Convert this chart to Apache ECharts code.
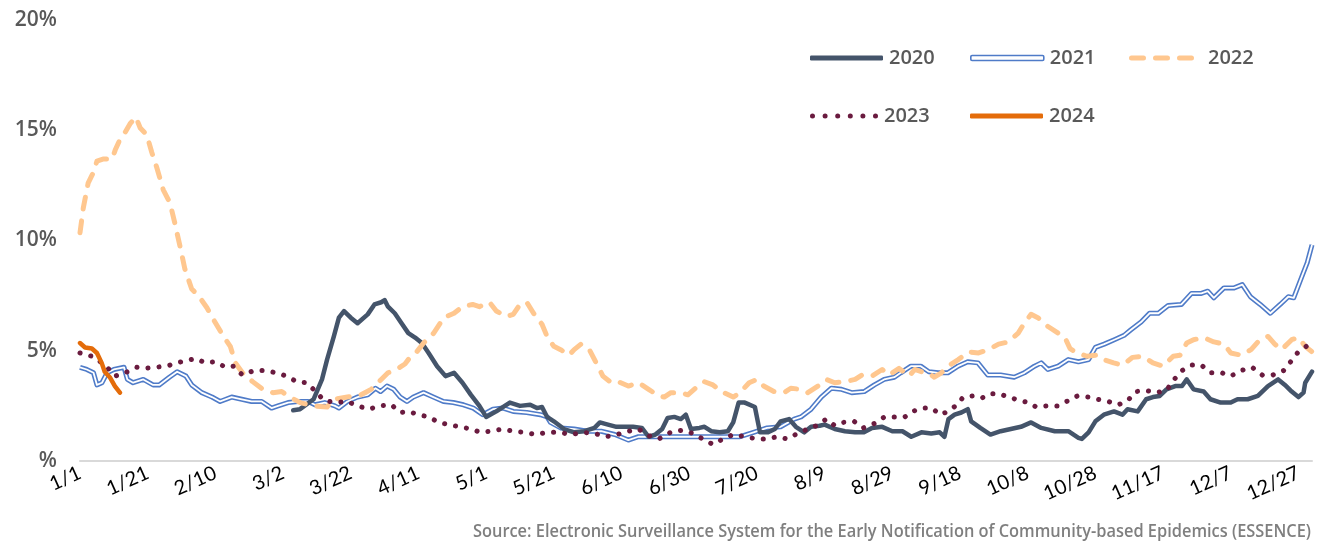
<!DOCTYPE html>
<html>
<head>
<meta charset="utf-8">
<script src="https://cdn.jsdelivr.net/npm/echarts@6/dist/echarts.min.js"></script>
<style>
html,body{margin:0;padding:0;background:#fff;}
#chart{width:1322px;height:546px;}
</style>
</head>
<body>
<div id="chart"></div>
<script>
// x: day of year (0 = 1/1), y: percent
const xTickLabels = ['1/1','1/21','2/10','3/2','3/22','4/11','5/1','5/21','6/10','6/30','7/20','8/9','8/29','9/18','10/8','10/28','11/17','12/7','12/27'];
const yTickLabels = ['%','5%','10%','15%','20%'];
const seriesNames = ['2020','2021','2022','2023','2024'];

const s2020 = [[63,2.3],[65,2.35],[69,2.8],[71.5,3.7],[73,4.6],[75,5.65],[76.5,6.5],[78,6.8],[80,6.5],[82,6.25],[85,6.65],[87,7.1],[89,7.2],[90,7.3],[91,7.0],[93,6.7],[95,6.25],[97,5.8],[99,5.6],[101,5.35],[103,4.9],[105.5,4.3],[108,3.85],[110.5,4.0],[113,3.55],[115.5,3.0],[118,2.5],[120,2.0],[123,2.25],[127,2.65],[130,2.5],[133,2.55],[135,2.4],[136.5,2.45],[138,2.0],[140,1.8],[143,1.45],[146,1.3],[149,1.35],[152,1.5],[153.6,1.75],[156,1.65],[158.5,1.55],[161,1.55],[163.4,1.55],[166,1.5],[168,1.1],[170,1.2],[172,1.45],[173.6,1.95],[175.6,2.0],[177.5,1.9],[179,2.1],[180.5,1.45],[183,1.5],[184.5,1.55],[186.5,1.35],[189,1.3],[191.4,1.35],[193,1.75],[194.6,2.65],[196.4,2.65],[199.4,2.45],[200.9,1.3],[203.3,1.3],[205.3,1.45],[207,1.8],[209.5,1.9],[211.5,1.55],[214,1.3],[216,1.55],[218.5,1.6],[220,1.65],[223,1.45],[226,1.35],[229,1.3],[231.6,1.3],[234,1.5],[237,1.55],[240,1.35],[243,1.35],[245.6,1.1],[248.6,1.3],[251.5,1.25],[254,1.3],[255.4,1.1],[256.6,1.9],[258.4,2.1],[260.4,2.2],[262.3,2.35],[263.3,1.8],[266,1.5],[269,1.2],[272,1.35],[275,1.45],[278,1.55],[281,1.75],[284,1.5],[288,1.35],[292,1.35],[295,1.05],[296,1.0],[298,1.3],[300,1.8],[302.5,2.1],[305.5,2.25],[308,2.1],[309.5,2.35],[312.5,2.25],[315,2.8],[317,2.9],[319,2.95],[321,3.25],[323.6,3.4],[325.6,3.4],[327,3.7],[329,3.25],[332,3.15],[334,2.8],[337,2.65],[340,2.65],[342,2.8],[345,2.8],[348,2.95],[351,3.4],[354,3.7],[356,3.45],[358,3.15],[360,2.9],[361.5,3.1],[362,3.55],[364,4.05]];

const s2021 = [[0,4.25],[2,4.15],[4,4.0],[5,3.45],[6.5,3.55],[8,4.0],[10,4.15],[13,4.25],[14,3.7],[15.7,3.55],[18.7,3.7],[21.6,3.45],[23.4,3.45],[26.4,3.8],[28.7,4.05],[31.3,3.85],[33,3.45],[36,3.1],[39,2.9],[41.4,2.7],[44.8,2.9],[47.8,2.8],[50.7,2.7],[53.7,2.7],[56.6,2.4],[58.5,2.5],[61.5,2.65],[64.4,2.7],[67.4,2.7],[69.4,2.55],[72.3,2.65],[75.3,2.5],[76.5,2.4],[79,2.7],[82,2.9],[85,3.0],[87.3,3.3],[88.8,3.15],[90.7,3.4],[92.7,3.25],[94.6,2.9],[96.6,2.7],[98.5,2.9],[101.5,3.1],[104.4,2.9],[107.4,2.7],[110.3,2.65],[113.3,2.55],[116.2,2.4],[119,2.1],[122,2.35],[125,2.4],[128,2.25],[132,2.2],[136,2.1],[138,2.0],[139,1.75],[142,1.5],[146,1.45],[150,1.35],[154,1.35],[158,1.2],[162,0.95],[165,1.1],[168,1.1],[172,1.1],[176,1.1],[180,1.1],[184,1.1],[188,1.1],[192,1.1],[195,1.1],[199,1.3],[203,1.5],[207,1.55],[211,1.9],[213,2.0],[216,2.35],[219,2.9],[222,3.3],[225,3.25],[228,3.1],[231.7,3.15],[234.7,3.45],[237.6,3.7],[240.6,3.8],[242.5,4.0],[245.5,4.3],[248.4,4.3],[250.8,4.05],[253.5,4.0],[256.4,4.0],[259.4,4.3],[262.3,4.5],[265.3,4.45],[268.2,3.9],[272,3.9],[276,3.8],[279,4.0],[282,4.3],[284,4.45],[286,4.15],[289,4.3],[292,4.6],[295,4.5],[298,4.6],[300,5.15],[302.6,5.3],[305.6,5.5],[308.5,5.7],[310.5,5.95],[313.5,6.3],[316,6.7],[318.6,6.7],[321.5,7.05],[325.4,7.1],[328.4,7.6],[331.3,7.6],[333.2,7.7],[335,7.4],[338,7.85],[341,7.85],[343.4,8.0],[345.8,7.45],[348.7,7.1],[351.7,6.7],[354.6,7.1],[357,7.45],[358.6,7.4],[360.6,8.2],[362.6,9.0],[364,9.8]];

const s2022 = [[0,10.35],[1,11.5],[2.4,12.6],[4,13.1],[5,13.6],[7,13.7],[9.5,13.7],[10.4,14.1],[12,14.65],[13.3,14.9],[14.8,15.3],[16.5,15.6],[17.8,15.1],[19.7,14.8],[21.2,14.0],[22.7,13.3],[24.6,12.3],[26.6,11.7],[28,10.8],[29.6,9.7],[31,8.7],[33,7.8],[35,7.5],[37.5,6.95],[39.5,6.4],[42.4,5.65],[44.4,5.2],[45.9,4.45],[48,4.0],[51,3.6],[54,3.25],[57,3.1],[59.6,3.15],[62,2.9],[65,2.65],[69,2.5],[73,2.45],[75,2.8],[79,2.9],[83,3.0],[86,3.25],[89,3.7],[91,4.0],[94,4.2],[96,4.4],[98,4.8],[99.5,4.95],[101.5,5.35],[104.5,5.8],[107.5,6.5],[110.5,6.7],[113,7.0],[116,7.1],[118,7.0],[121,7.2],[123,6.8],[126,6.55],[128,6.65],[130,7.1],[132,7.2],[134,6.7],[136.5,6.2],[138,5.65],[140,5.2],[142,5.05],[144.5,4.8],[146,5.05],[148,5.3],[150.5,5.05],[152.5,4.45],[154.5,3.85],[157,3.55],[159,3.6],[162,3.4],[165,3.55],[168,3.25],[171,2.95],[172.6,2.9],[174.6,3.1],[177.6,3.1],[179.6,3.0],[182.6,3.4],[184.4,3.6],[187,3.45],[189.5,3.15],[193,2.9],[195,3.1],[197.7,3.55],[200,3.7],[202,3.4],[205,3.15],[208,3.1],[210,3.3],[213,3.25],[215,3.1],[218,3.4],[220.5,3.7],[223,3.55],[226,3.6],[229,3.7],[231,3.9],[234,3.85],[237,4.15],[239,3.9],[242,4.2],[245,3.85],[246.6,4.15],[248.6,4.05],[250.6,4.0],[252.4,3.8],[254.5,4.0],[256.5,4.3],[259.5,4.6],[262.5,4.95],[265.5,4.9],[268.4,5.05],[271.4,5.3],[274.3,5.4],[277.2,5.8],[279,6.25],[281,6.65],[283,6.5],[286,6.1],[289,5.8],[291,5.6],[292.5,5.1],[294.6,4.9],[297.5,4.75],[300.5,4.8],[302.4,4.6],[305.4,4.45],[308,4.35],[311,4.7],[314,4.75],[317,4.45],[320,4.3],[323,4.75],[325,4.8],[327,5.35],[329,5.5],[332,5.6],[335,5.4],[338,5.3],[340,4.9],[343,4.8],[346,5.05],[348.6,5.5],[351,5.65],[353,5.3],[355,5.05],[358,5.5],[360,5.6],[362,5.2],[364,4.95]];

const s2023 = [[0,4.9],[3.5,4.75],[6,4.5],[8,4.25],[10.4,3.85],[13.3,4.0],[16.8,4.25],[19,4.2],[22,4.25],[25.6,4.3],[28.5,4.45],[31.3,4.55],[34.2,4.65],[37,4.45],[40,4.5],[43,4.25],[45.3,4.3],[48,3.9],[51.4,4.1],[54.8,4.1],[58,4.0],[61,3.85],[64,3.6],[67,3.55],[70,3.1],[72,2.75],[75.4,2.65],[79,2.7],[82,2.5],[85.3,2.35],[88.7,2.5],[92,2.55],[94.6,2.2],[97,2.25],[100,2.1],[103,2.0],[106,1.75],[109,1.65],[112.3,1.55],[115.5,1.45],[118.3,1.3],[121.5,1.35],[124.7,1.45],[128,1.35],[131.3,1.3],[134.7,1.2],[138,1.3],[141.6,1.3],[145,1.2],[148.6,1.3],[152,1.25],[155.4,1.1],[158.7,1.2],[162,1.35],[165,1.45],[168,1.15],[171,1.0],[174.5,1.3],[178,1.4],[181,1.25],[184,1.0],[187,0.75],[190,1.0],[193,1.2],[196.5,1.1],[200,1.0],[203,1.0],[206,1.1],[209,1.0],[212,1.25],[215,1.45],[217.6,1.6],[220.5,1.9],[223,1.6],[225.5,1.75],[228.7,1.8],[231.4,1.5],[234.7,1.7],[237.7,2.0],[241,2.0],[243.7,2.0],[246,2.25],[249,2.4],[251.6,2.4],[254.3,2.1],[256.4,2.25],[258.7,2.5],[261,2.9],[263.7,2.95],[266.4,2.85],[268.8,3.05],[271.5,3.05],[274.4,2.9],[277.5,2.75],[280.3,2.65],[282.5,2.45],[285.6,2.5],[288.8,2.5],[291.5,2.7],[294.7,2.95],[297.8,2.9],[300.6,2.8],[303.8,2.7],[306.8,2.55],[309.6,2.75],[312,3.15],[315,3.2],[318,3.1],[321,3.2],[323,3.65],[325.6,4.1],[328.4,4.35],[331.3,4.35],[334,4.0],[337.3,4.0],[340,3.85],[343,4.1],[346.3,4.25],[349.3,3.9],[352.4,3.9],[355.6,4.1],[357.7,4.5],[359.7,4.9],[362.3,5.2],[364,4.95]];

const s2024 = [[0,5.35],[1.5,5.15],[3.5,5.1],[5,4.9],[6.4,4.45],[7.3,4.05],[8.8,3.8],[10.3,3.4],[11.8,3.1]];

const sourceText = 'Source: Electronic Surveillance System for the Early Notification of Community-based Epidemics (ESSENCE)';

const C2020 = '#44546A', C2021 = '#4F7BC8', C2022 = '#FFC78F', C2023 = '#6A1B3F', C2024 = '#E46C0A';
const labelFont = '"Open Sans", "Liberation Sans", sans-serif';

// legend icon shapes
const dashIcon = 'path://M2.5,0 h12 a2.5,2.5 0 0 1 0,5 h-12 a2.5,2.5 0 0 1 0,-5 z M26.5,0 h12 a2.5,2.5 0 0 1 0,5 h-12 a2.5,2.5 0 0 1 0,-5 z M50.5,0 h12 a2.5,2.5 0 0 1 0,5 h-12 a2.5,2.5 0 0 1 0,-5 z';
let dotPath = 'path://';
for (let i = 0; i < 6; i++) {
  const cx = 2.5 + i * 12.6;
  dotPath += 'M' + (cx - 2.5) + ',2.5 a2.5,2.5 0 1,0 5,0 a2.5,2.5 0 1,0 -5,0 z ';
}

function legendBox(name, left, top, icon, color, w, h, extra) {
  return Object.assign({
    data: [{ name: name, icon: icon, itemStyle: { color: color, borderWidth: 0 } }],
    left: left, top: top, padding: 0, itemGap: 0,
    itemWidth: w, itemHeight: h,
    textStyle: { fontSize: 20, color: '#595959', fontFamily: labelFont, fontWeight: 600, padding: [0, 0, 0, 1] },
    selectedMode: false
  }, extra || {});
}

// compress the source line to the reference width
const measureCtx = document.createElement('canvas').getContext('2d');
const sourceFont = '600 18px "Open Sans", sans-serif';
measureCtx.font = sourceFont;
const sourceScale = 838 / measureCtx.measureText(sourceText).width;

const chart = echarts.init(document.getElementById('chart'), null, { renderer: 'canvas' });
chart.setOption({
  animation: false,
  backgroundColor: '#ffffff',
  grid: { left: 80, right: 10, top: 20, bottom: 85, containLabel: false },
  legend: [
    legendBox('2020', 810, 48, 'roundRect', C2020, 73, 5),
    { data: [{ name: '2021', icon: 'roundRect', itemStyle: { color: '#ffffff', borderColor: C2021, borderWidth: 1.6 } }],
      left: 970, top: 48, padding: 0, itemGap: 0, itemWidth: 73, itemHeight: 5, selectedMode: false,
      textStyle: { fontSize: 20, color: '#595959', fontFamily: labelFont, fontWeight: 600, padding: [0, 0, 0, 1] } },
    legendBox('2022', 1129, 48, dashIcon, C2022, 65, 5, { textStyle: { fontSize: 20, color: '#595959', fontFamily: labelFont, fontWeight: 600, padding: [0, 0, 0, 9] } }),
    legendBox('2023', 810, 106, dotPath, C2023, 68, 5),
    legendBox('2024', 970, 106, 'roundRect', C2024, 73, 5)
  ],
  xAxis: {
    type: 'value', min: 0, max: 364, interval: 20,
    axisLine: { show: true, lineStyle: { color: '#D9D9D9', width: 2 } },
    axisTick: { show: false },
    splitLine: { show: false },
    axisLabel: {
      rotate: 24, margin: 11, color: '#000000', fontSize: 20,
      fontFamily: '"Lato", "Liberation Sans", sans-serif',
      showMaxLabel: false,
      formatter: function (v) { return v % 20 === 0 ? (xTickLabels[v / 20] || '') : ''; }
    }
  },
  yAxis: {
    type: 'value', min: 0, max: 20, interval: 5,
    axisLine: { show: false }, axisTick: { show: false }, splitLine: { show: false },
    axisLabel: {
      margin: 23, color: '#595959', fontSize: 21, fontFamily: labelFont, fontWeight: 600,
      formatter: function (v) { return yTickLabels[Math.round(v / 5)]; }
    }
  },
  series: [
    { name: '2020', type: 'line', data: s2020, symbol: 'none', color: C2020, z: 3,
      lineStyle: { color: C2020, width: 4.5, cap: 'round', join: 'round' } },
    { name: '2021', type: 'line', data: s2021, symbol: 'none', color: C2021, z: 2,
      lineStyle: { color: C2021, width: 5, join: 'round' } },
    { name: '2021 inner', type: 'line', data: s2021, symbol: 'none', color: '#ffffff', z: 2,
      lineStyle: { color: '#ffffff', width: 1.8, join: 'round' }, silent: true },
    { name: '2022', type: 'line', data: s2022, symbol: 'none', color: C2022, z: 4,
      lineStyle: { color: C2022, width: 5, cap: 'round', join: 'round', type: [12, 12] } },
    { name: '2023', type: 'line', data: s2023, symbol: 'none', color: C2023, z: 5,
      lineStyle: { color: C2023, width: 5, cap: 'round', type: [0.1, 11] } },
    { name: '2024', type: 'line', data: s2024, symbol: 'none', color: C2024, z: 6,
      lineStyle: { color: C2024, width: 4.5, cap: 'round', join: 'round' } }
  ],
  graphic: [{
    type: 'text', x: 1311, y: 532, scaleX: sourceScale,
    style: {
      text: sourceText, fill: '#7F7F7F', font: sourceFont,
      align: 'right', verticalAlign: 'middle'
    }
  }]
});
</script>
</body>
</html>
